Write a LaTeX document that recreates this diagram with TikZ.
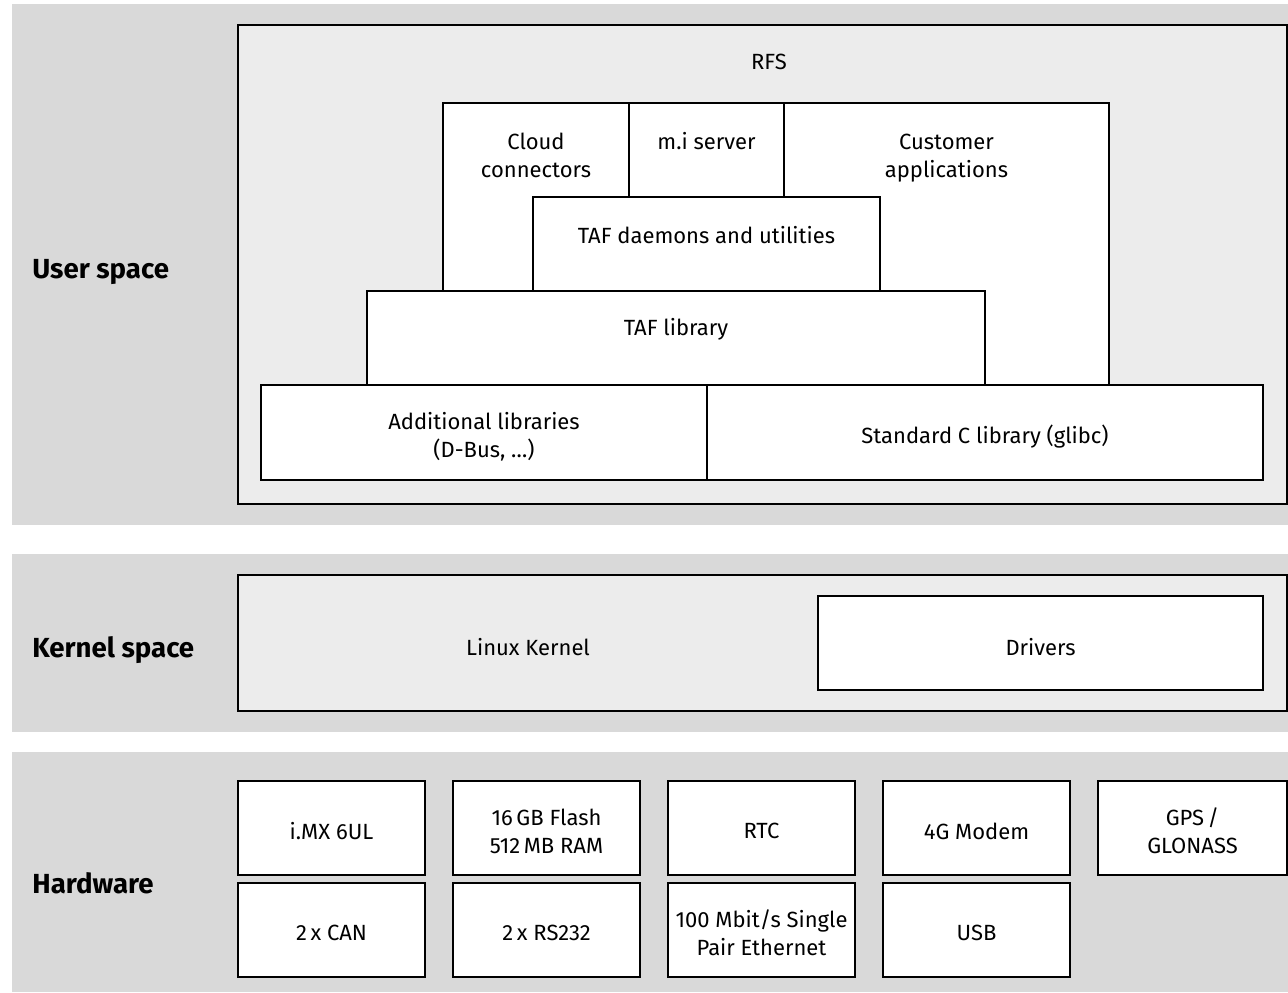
\documentclass[tikz,border=0pt]{standalone}
\usepackage{fontspec}
\setmainfont{Fira Sans}
\usetikzlibrary{positioning}
\definecolor{bandgray}{HTML}{D9D9D9}
\definecolor{innergray}{HTML}{ECECEC}
\tikzstyle{band} = [rectangle, fill=bandgray, inner sep=0pt, outer sep=0pt]
\tikzstyle{frame} = [rectangle, draw, line width=1pt, fill=innergray, inner sep=0pt, outer sep=0pt]
\tikzstyle{bk} = [rectangle, draw, line width=1pt, fill=white, inner sep=0pt, outer sep=0pt]
\tikzstyle{txt} = [align=center, inner sep=0pt, font=\fontsize{11}{14}\selectfont]
\tikzstyle{layer} = [anchor=west, inner sep=0pt, font=\fontsize{13.8}{16}\selectfont\bfseries]
\tikzset{sz/.style 2 args={minimum width=#1*0.5pt, minimum height=#2*0.5pt}}

\begin{document}
\begin{tikzpicture}[x=0.5pt, y=-0.5pt]
	\useasboundingbox (0,0) rectangle (1288,992);
	\node [band, sz={1276}{521}] (ub) at (650,264.5) {};
	\node [band, sz={1276}{178}] (kb) at (650,643) {};
	\node [band, sz={1276}{240}] (hb) at (650,872) {};
	\node [layer] (lu) at (32,272) {User space};
	\node [layer] (lk) at (32,650) {Kernel space};
	\node [layer] (lh) at (32,883) {Hardware};
	% user space
	\node [frame, sz={1049}{479}] (rfs) at (762.5,264.5) {};
	\node [txt] (rfst) at (769,62) {RFS};
	\node [bk, sz={186}{188}] (cc) at (536,197) {};
	\node [txt] (cct) at (536,155) {Cloud\\connectors};
	\node [bk, sz={155}{94}] (mi) at (706.5,150) {};
	\node [txt] (mit) at (706.5,141) {m.i server};
	\node [bk, sz={325}{282}] (ca) at (946.5,244) {};
	\node [txt] (cat) at (946.5,158) {Customer\\applications};
	\node [bk, sz={347}{94}] (td) at (706.5,244) {};
	\node [txt] (tdt) at (706.5,235) {TAF daemons and utilities};
	\node [bk, sz={618}{94}] (tl) at (676,338) {};
	\node [txt] (tlt) at (676,329) {TAF library};
	\node [bk, sz={446}{95}] (al) at (484,432.5) {};
	\node [bk, sz={556}{95}, right=0pt of al] (sc) {};
	\node [txt] (alt) at ([yshift=-2pt]al.center) {Additional libraries\\(D-Bus, \dots)};
	\node [txt] (sct) at ([yshift=-2pt]sc.center) {Standard C library (glibc)};
	% kernel space
	\node [frame, sz={1049}{136}] (kf) at (762.5,643) {};
	\node [txt] (lkt) at (528,647) {Linux Kernel};
	\node [bk, sz={445}{94}] (dr) at (1040.5,643) {};
	\node [txt] (drt) at ([yshift=-2pt]dr.center) {Drivers};
	% hardware
	\node [bk, sz={187}{94}] (cpu) at (331.5,828) {};
	\node [bk, sz={187}{94}, right=14pt of cpu] (mem) {};
	\node [bk, sz={187}{94}, right=14pt of mem] (rtc) {};
	\node [bk, sz={187}{94}, right=14pt of rtc] (mod) {};
	\node [bk, sz={189}{94}, right=14pt of mod] (gps) {};
	\node [bk, sz={187}{94}, below=4pt of cpu] (can) {};
	\node [bk, sz={187}{94}, below=4pt of mem] (rs) {};
	\node [bk, sz={187}{94}, below=4pt of rtc] (eth) {};
	\node [bk, sz={187}{94}, below=4pt of mod] (usb) {};
	\node [txt] (cput) at ([yshift=-1.5pt]cpu.center) {i.MX 6UL};
	\node [txt] (memt) at ([yshift=-1.5pt]mem.center) {16\,GB Flash\\512\,MB RAM};
	\node [txt] (rtct) at ([yshift=-1.5pt]rtc.center) {RTC};
	\node [txt] (modt) at ([yshift=-1.5pt]mod.center) {4G Modem};
	\node [txt] (gpst) at ([yshift=-1.5pt]gps.center) {GPS\,/\\GLONASS};
	\node [txt] (cant) at ([yshift=-1.5pt]can.center) {2\,x CAN};
	\node [txt] (rst) at ([yshift=-1.5pt]rs.center) {2\,x RS232};
	\node [txt] (etht) at ([yshift=-1.5pt]eth.center) {100 Mbit/s Single\\Pair Ethernet};
	\node [txt] (usbt) at ([yshift=-1.5pt]usb.center) {USB};
\end{tikzpicture}
\end{document}
